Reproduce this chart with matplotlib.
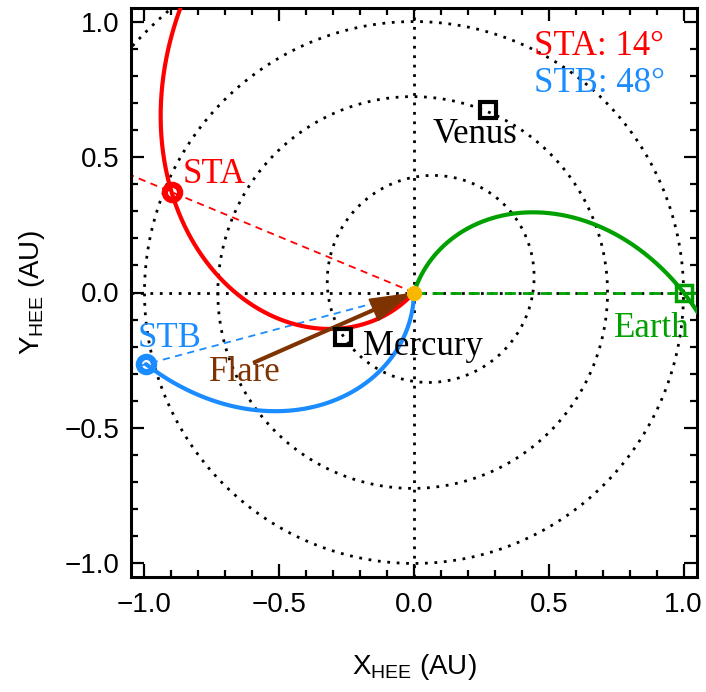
import numpy as np
import matplotlib.pyplot as plt
from matplotlib.ticker import MultipleLocator

# spacecraft / Earth positions (HEE, AU and deg)
sc_names = ['STA', 'STB', 'Earth']
sc_r = [0.973, 1.029, 1.0]
sc_lon = [157.6, 194.9, 0.0]
sc_colors = ['#ff0000', '#1a8cff', '#00a000']
sc_marker = ['o', 'o', 's']
spiral_rmax = [1.8, 1.029, 1.8]

# parker spiral
v_sw = 340.0          # km/s
omega_sun = 2.865e-6  # rad/s
au_km = 1.496e8

# planets
planet_names = ['Mercury', 'Venus']
planet_x = [-0.262, 0.275]
planet_y = [-0.166, 0.675]

# orbits: semi-major axis, eccentricity, perihelion longitude (deg)
orbit_a = [0.387, 0.723, 1.0, 1.524]
orbit_e = [0.2056, 0.0068, 0.0, 0.0934]
orbit_peri = [219.0, 0.0, 0.0, 125.0]

flare_start = (-0.595, -0.259)
flare_end = (-0.012, -0.004)

sep_text = ['STA: 14°', 'STB: 48°']

fig = plt.figure(figsize=(7.06, 6.92), dpi=100)
ax = fig.add_axes([131/706, 1-577/692, 566/706, 569/692])

dot = (0, (1, 2.4))

# orbits
th = np.linspace(0, 2*np.pi, 721)
for a, e, wp in zip(orbit_a, orbit_e, orbit_peri):
    r = a*(1-e**2)/(1+e*np.cos(th-np.radians(wp)))
    ax.plot(r*np.cos(th), r*np.sin(th), color='k', lw=2, ls=dot, zorder=1)

ax.axhline(0, color='k', lw=2, ls=dot, zorder=1)
ax.axvline(0, color='k', lw=2, ls=dot, zorder=1)

# dashed sun-sc lines
rr = np.array([0.0, 2.0])
for lon, c in zip(sc_lon, sc_colors):
    if c == '#00a000':
        lw, ls = 2, (0, (4, 2.5))
    else:
        lw, ls = 1.3, (0, (4, 3))
    ax.plot(rr*np.cos(np.radians(lon)), rr*np.sin(np.radians(lon)), color=c, lw=lw,
            ls=ls, zorder=2)

# spirals
k = omega_sun*au_km/v_sw
for rs, lon, c, rmax in zip(sc_r, sc_lon, sc_colors, spiral_rmax):
    r = np.linspace(0.004, rmax, 600)
    phi = np.radians(lon) + k*(rs - r)
    ax.plot(r*np.cos(phi), r*np.sin(phi), color=c, lw=3, zorder=3,
            solid_capstyle='round')

# flare arrow
ax.arrow(flare_start[0], flare_start[1], flare_end[0]-flare_start[0], flare_end[1]-flare_start[1],
         width=0.010, head_width=0.085, head_length=0.15, length_includes_head=True,
         color='#7f3300', zorder=4)

# markers
for rs, lon, c, m in zip(sc_r, sc_lon, sc_colors, sc_marker):
    x, y = rs*np.cos(np.radians(lon)), rs*np.sin(np.radians(lon))
    if m == 'o':
        ax.plot(x, y, 'o', ms=11, mfc='none', mec=c, mew=4.5, zorder=5)
    else:
        ax.plot(x, y, 's', ms=12, mfc='none', mec=c, mew=2.5, zorder=5)
ax.plot(planet_x, planet_y, 's', ms=12, mfc='none', mec='k', mew=3, zorder=5)
ax.plot(0, 0, 'o', color='#f8b800', ms=10, zorder=6)

# labels
tf = dict(family='Liberation Serif', fontsize=25, zorder=7)
ax.text(-0.858, 0.403, 'STA', color=sc_colors[0], **tf)
ax.text(-1.024, -0.200, 'STB', color=sc_colors[1], **tf)
ax.text(0.743, -0.165, 'Earth', color=sc_colors[2], **tf)
ax.text(-0.189, -0.230, planet_names[0], color='k', **tf)
ax.text(0.070, 0.551, planet_names[1], color='k', **tf)
ax.text(-0.761, -0.325, 'Flare', color='#7f3300', **tf)
ax.text(0.447, 0.876, sep_text[0], color=sc_colors[0], **tf)
ax.text(0.447, 0.740, sep_text[1], color=sc_colors[1], **tf)

ax.set_xlim(-1.05, 1.05)
ax.set_ylim(-1.05, 1.05)
for a_ in (ax.xaxis, ax.yaxis):
    a_.set_major_locator(MultipleLocator(0.5))
    a_.set_minor_locator(MultipleLocator(0.1))
ax.tick_params(which='both', direction='in', top=True, right=True, width=1.6)
ax.tick_params(which='major', length=9.5)
ax.tick_params(which='minor', length=5)
ax.tick_params(axis='x', pad=11)
ax.tick_params(axis='y', pad=8)
for s in ax.spines.values():
    s.set_linewidth(2.2)
fmt = plt.FuncFormatter(lambda v, p: f'{v:.1f}'.replace('-', '\u2212'))
ax.xaxis.set_major_formatter(fmt)
ax.yaxis.set_major_formatter(fmt)
for lab in ax.get_xticklabels() + ax.get_yticklabels():
    lab.set_family('Liberation Sans')
    lab.set_fontsize(20)

ax.set_xlabel(r'X$_{\mathregular{HEE}}$ (AU)', family='Liberation Sans', fontsize=20, labelpad=24)
ax.set_ylabel(r'Y$_{\mathregular{HEE}}$ (AU)', family='Liberation Sans', fontsize=20, labelpad=13)

fig.savefig('out.png', dpi=100)
